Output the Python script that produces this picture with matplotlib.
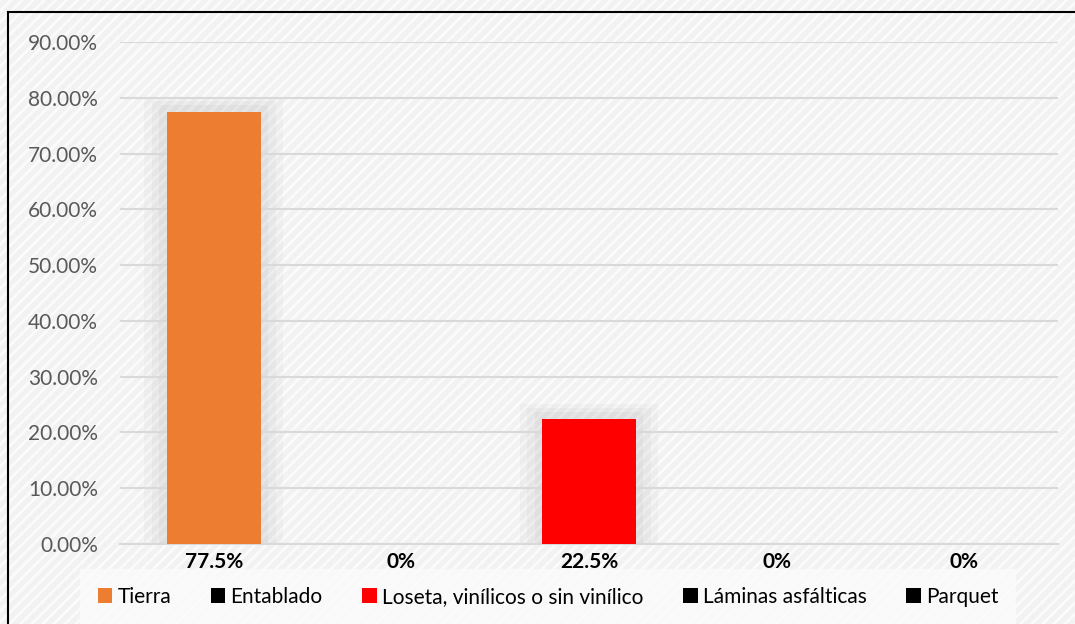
import matplotlib.pyplot as plt
from matplotlib.patches import Rectangle, Patch
import numpy as np

plt.rcParams['font.family'] = ['Lato', 'DejaVu Sans']
plt.rcParams['hatch.linewidth'] = 2.0

categories = ['Tierra', 'Entablado', 'Loseta, vinílicos o sin vinílico',
              'Láminas asfálticas', 'Parquet']
values = [77.5, 0, 22.5, 0, 0]
labels = ['77.5%', '0%', '22.5%', '0%', '0%']
colors = ['#ED7D31', '#000000', '#FF0000', '#000000', '#000000']

fig = plt.figure(figsize=(10.75, 6.24), dpi=100)
fig.patch.set_facecolor('#f2f2f2')

# hatched background
bg = Rectangle((0, 0), 1, 1, transform=fig.transFigure, facecolor='#f2f2f2',
               edgecolor='#fbfbfb', hatch='///', lw=0, zorder=-10)
fig.patches.append(bg)

# black frame (top and left visible)
frame = Rectangle((8 / 1075, -0.1), 1.2, (624 - 12) / 624 + 0.1,
                  transform=fig.transFigure, fill=False, edgecolor='black',
                  lw=1.5, zorder=5)
fig.patches.append(frame)

ax = fig.add_axes([120 / 1075, (624 - 544) / 624, 938 / 1075, 502 / 624])
ax.set_facecolor('none')

x = np.arange(len(categories))
# soft shadow behind the bars
for i, v in enumerate(values):
    if v > 0:
        for k, a in [(0.37, 0.05), (0.33, 0.06), (0.29, 0.07)]:
            ax.bar(x[i], v + (k - 0.22) * 17, width=2 * k, color='#8c8c8c',
                   alpha=a, zorder=1, lw=0)
ax.bar(x, values, width=0.5, color=colors, zorder=3)

ax.set_xlim(-0.5, len(categories) - 0.5)
ax.set_ylim(0, 90)
ax.set_yticks(np.arange(0, 91, 10))
ax.set_yticklabels([f'{t:.2f}%' for t in np.arange(0, 91, 10)],
                   fontsize=15, color='#595959')
ax.set_xticks([])
ax.grid(axis='y', color='#d9d9d9', lw=1.5, zorder=0)
ax.tick_params(axis='y', length=0, pad=16)
for s in ['top', 'right', 'left']:
    ax.spines[s].set_visible(False)
ax.spines['bottom'].set_color('#d9d9d9')
ax.spines['bottom'].set_linewidth(1.5)

for i, lab in enumerate(labels):
    ax.annotate(lab, (x[i], 0), xytext=(0, -6), textcoords='offset points',
                ha='center', va='top', fontsize=15, fontweight='bold',
                color='black', annotation_clip=False)

handles = [Patch(facecolor=c, edgecolor='none') for c in colors]
leg = fig.legend(handles, categories, loc='center', ncol=5,
                 bbox_to_anchor=(548 / 1075, (624 - 597) / 624),
                 fontsize=15, frameon=True, handlelength=0.7,
                 handleheight=0.7, handletextpad=0.25, columnspacing=1.9,
                 borderpad=0.55)
leg.get_frame().set_facecolor('#fbfbfb')
leg.get_frame().set_edgecolor('none')
leg.get_frame().set_boxstyle('square')

fig.savefig('out.png', dpi=100, facecolor=fig.get_facecolor())
